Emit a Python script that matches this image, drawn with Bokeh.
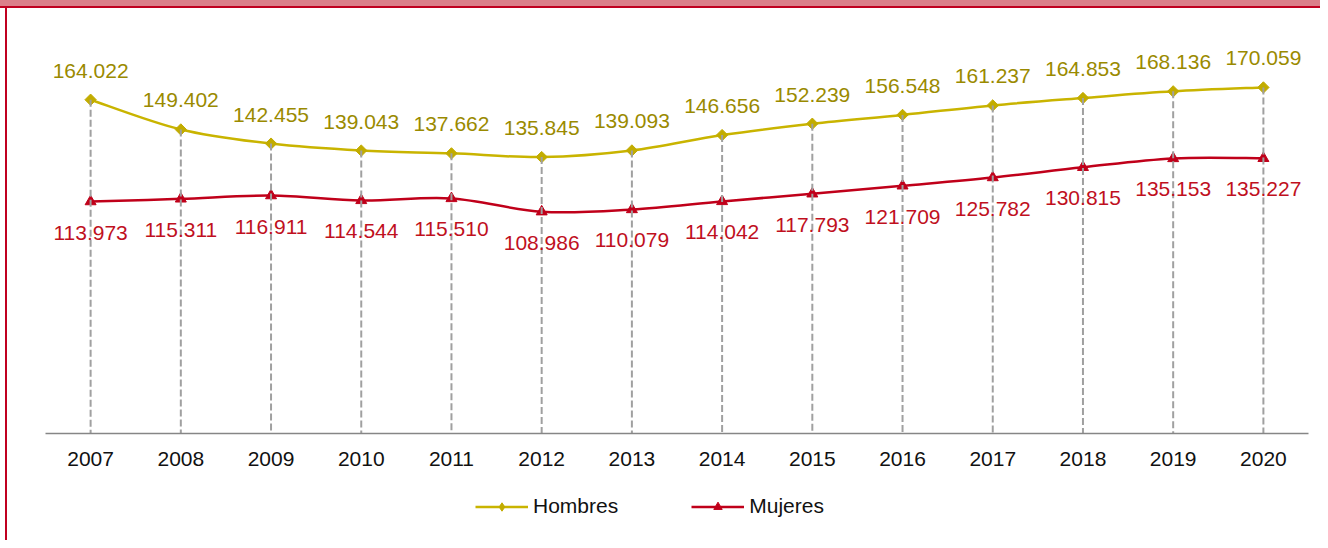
from bokeh.plotting import figure
from bokeh.layouts import column
from bokeh.models import (ColumnDataSource, Range1d, FixedTicker, Legend, LegendItem)
from bokeh.core.properties import value
from bokeh.embed import file_html
from bokeh.resources import INLINE

years = ["2007", "2008", "2009", "2010", "2011", "2012", "2013",
         "2014", "2015", "2016", "2017", "2018", "2019", "2020"]
hombres = [164.022, 149.402, 142.455, 139.043, 137.662, 135.845, 139.093,
           146.656, 152.239, 156.548, 161.237, 164.853, 168.136, 170.059]
mujeres = [113.973, 115.311, 116.911, 114.544, 115.510, 108.986, 110.079,
           114.042, 117.793, 121.709, 125.782, 130.815, 135.153, 135.227]

FONT = "Liberation Sans"
C_H_LINE = "#C9B400"
C_H_MARK = "#C2AC00"
C_H_TEXT = "#9A8A00"
C_M_LINE = "#C0001A"
C_M_TEXT = "#C0101E"
PINK = "#DB7F8A"
RED = "#C00020"

idx = list(range(len(years)))


def smooth(vals):
    n = len(vals)
    pts = list(zip(idx, vals))
    out = {"x0": [], "y0": [], "x1": [], "y1": [], "cx0": [], "cy0": [], "cx1": [], "cy1": []}
    for i in range(n - 1):
        p0 = pts[i - 1] if i > 0 else pts[i]
        p1 = pts[i]
        p2 = pts[i + 1]
        p3 = pts[i + 2] if i + 2 < n else pts[i + 1]
        out["x0"].append(p1[0]); out["y0"].append(p1[1])
        out["x1"].append(p2[0]); out["y1"].append(p2[1])
        out["cx0"].append(p1[0] + (p2[0] - p0[0]) / 6)
        out["cy0"].append(p1[1] + (p2[1] - p0[1]) / 6)
        out["cx1"].append(p2[0] - (p3[0] - p1[0]) / 6)
        out["cy1"].append(p2[1] - (p3[1] - p1[1]) / 6)
    return ColumnDataSource(out)


src = ColumnDataSource(dict(
    x=idx, h=hombres, m=mujeres, zero=[0] * len(idx),
    hl=[f"{v:.3f}" for v in hombres], ml=[f"{v:.3f}" for v in mujeres]))
sh_src = smooth(hombres)
sm_src = smooth(mujeres)


def draw_series(fig, h_marker, h_angle, h_size):
    rh = fig.bezier(x0="x0", y0="y0", x1="x1", y1="y1", cx0="cx0", cy0="cy0",
                    cx1="cx1", cy1="cy1", source=sh_src,
                    line_color=C_H_LINE, line_width=2.5)
    rm = fig.bezier(x0="x0", y0="y0", x1="x1", y1="y1", cx0="cx0", cy0="cy0",
                    cx1="cx1", cy1="cy1", source=sm_src,
                    line_color=C_M_LINE, line_width=2.5)
    sh = fig.scatter(x="x", y="h", source=src, marker=h_marker, angle=h_angle, size=h_size,
                     fill_color=C_H_MARK, line_color=C_H_MARK)
    sm = fig.scatter(x="x", y="m", source=src, marker="triangle", size=11,
                     fill_color=C_M_LINE, line_color=C_M_LINE)
    return rh, rm, sh, sm


# ---- main chart ----
p = figure(width=1320, height=475, output_backend="svg", toolbar_location=None,
           x_range=Range1d(-0.5, len(years) - 0.5), y_range=Range1d(0, 200),
           y_axis_location=None,
           min_border_left=45, min_border_right=12, min_border_top=26,
           min_border_bottom=42)
p.outline_line_color = None
p.xgrid.visible = False
p.ygrid.visible = False
p.background_fill_color = "white"
p.border_fill_color = None

ax = p.xaxis[0]
ax.ticker = FixedTicker(ticks=idx)
ax.major_label_overrides = {i: y for i, y in zip(idx, years)}
ax.major_tick_out = 0
ax.major_tick_in = 0
ax.minor_tick_out = 0
ax.minor_tick_in = 0
ax.axis_line_color = "#868686"
ax.axis_line_width = 1.5
ax.major_label_standoff = 18
ax.major_label_text_font = FONT
ax.major_label_text_font_size = "21px"
ax.major_label_text_color = "#111111"

draw_series(p, "square", 0.785398, 8)

p.segment(x0="x", y0="h", x1="x", y1="zero", source=src,
          line_color="#A0A0A0", line_width=2, line_dash="7 3")

p.text(x="x", y="h", text="hl", source=src, text_align="center",
       text_baseline="middle", y_offset=-29, text_font=value(FONT),
       text_font_size="21px", text_color=C_H_TEXT)
p.text(x="x", y="m", text="ml", source=src, text_align="center",
       text_baseline="middle", y_offset=31, text_font=value(FONT),
       text_font_size="21px", text_color=C_M_TEXT)

# ---- legend strip (same series, kept out of view; only the legend shows) ----
q = figure(width=1320, height=65, output_backend="svg", toolbar_location=None,
           x_range=Range1d(0, 1), y_range=Range1d(-2, -1),
           x_axis_location=None, y_axis_location=None,
           min_border_left=0, min_border_right=0, min_border_top=0,
           min_border_bottom=0)
q.outline_line_color = None
q.xgrid.visible = False
q.ygrid.visible = False
q.background_fill_color = None
q.border_fill_color = None
qh, qm, qsh, qsm = draw_series(q, "diamond", 0, 12)

legend = Legend(items=[LegendItem(label="Hombres", renderers=[qh, qsh]),
                       LegendItem(label="Mujeres", renderers=[qm, qsm])],
                orientation="horizontal", location=(430, 22),
                glyph_width=53, glyph_height=21, label_standoff=5, spacing=73,
                padding=0, margin=0, border_line_color=None,
                background_fill_alpha=0, label_text_font=FONT,
                label_text_font_size="21px", label_text_color="#111111")
q.add_layout(legend, "center")

layout = column(p, q, spacing=0)
layout.styles = {
    "background-color": "white",
    "background-image": (f"linear-gradient({PINK}, {PINK}), "
                         f"linear-gradient({RED}, {RED}), "
                         f"linear-gradient({RED}, {RED})"),
    "background-size": "100% 6px, 100% 2px, 2px 100%",
    "background-position": "0 0, 0 6px, 5px 0",
    "background-repeat": "no-repeat",
}

open("out.html", "w").write(file_html(layout, INLINE))
